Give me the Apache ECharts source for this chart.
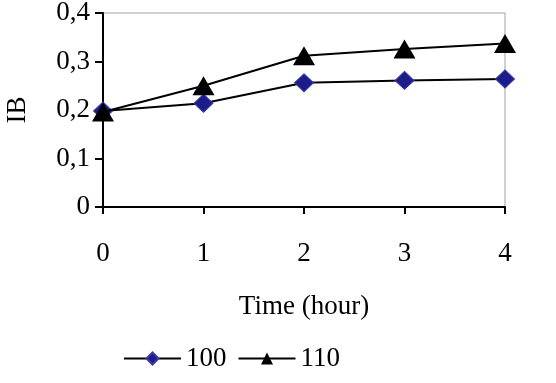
<!DOCTYPE html>
<html>
<head>
<meta charset="utf-8">
<script src="https://cdn.jsdelivr.net/npm/echarts@6/dist/echarts.min.js"></script>
<style>
    html, body { margin: 0; padding: 0; background: #fff; }
    #chart { width: 556px; height: 383px; }
</style>
</head>
<body>
<div id="chart"></div>
<script>
// hours on the x axis
const hours = [0, 1, 2, 3, 4];
// IB values per series
const ib100 = [0.198, 0.214, 0.256, 0.261, 0.264];
const ib110 = [0.196, 0.25, 0.312, 0.326, 0.337];
const seriesNames = ["100", "110"];

const fontFamily = "'Liberation Serif', 'Times New Roman', serif";
const fontSize = 27;
const colorNavy = "#1c1c8a";

const chart = echarts.init(document.getElementById("chart"));

chart.setOption({
    animation: false,
    textStyle: { fontFamily: fontFamily },
    grid: {
        left: 103,
        right: 51,
        top: 13,
        bottom: 176,
        outerBoundsMode: "none",
        containLabel: false,
        show: true,
        borderColor: "#a0a0a0",
        borderWidth: 1
    },
    legend: {
        data: seriesNames,
        bottom: 6,
        left: 118,
        itemWidth: 57,
        itemHeight: 15,
        itemGap: 11,
        textStyle: {
            fontFamily: fontFamily,
            fontSize: fontSize,
            color: "#000"
        }
    },
    xAxis: {
        type: "value",
        min: 0,
        max: 4,
        interval: 1,
        name: "Time (hour)",
        nameLocation: "middle",
        nameGap: 86,
        nameTextStyle: { fontSize: fontSize, color: "#000", fontFamily: fontFamily },
        axisLine: { lineStyle: { color: "#000", width: 2 } },
        axisTick: { show: true, length: 7, lineStyle: { color: "#000", width: 2 } },
        axisLabel: { fontSize: fontSize, color: "#000", margin: 33 },
        splitLine: { show: false }
    },
    yAxis: {
        type: "value",
        min: 0,
        max: 0.4,
        interval: 0.1,
        name: "IB",
        nameLocation: "middle",
        nameGap: 72,
        nameTextStyle: { fontSize: fontSize, color: "#000", fontFamily: fontFamily },
        axisLine: { show: true, lineStyle: { color: "#000", width: 2 } },
        axisTick: { show: true, length: 8, lineStyle: { color: "#000", width: 2 } },
        axisLabel: {
            fontSize: fontSize,
            color: "#000",
            margin: 13,
            formatter: v => v === 0 ? "0" : v.toFixed(1).replace(".", ",")
        },
        splitLine: { show: false }
    },
    series: [
        {
            name: seriesNames[0],
            type: "line",
            data: hours.map((h, i) => [h, ib100[i]]),
            symbol: "diamond",
            symbolSize: [19, 18],
            lineStyle: { color: "#000", width: 2 },
            itemStyle: { color: colorNavy, borderColor: "#3a3aa8", borderWidth: 1 },
            z: 3
        },
        {
            name: seriesNames[1],
            type: "line",
            data: hours.map((h, i) => [h, ib110[i]]),
            symbol: "triangle",
            symbolSize: [22, 19],
            lineStyle: { color: "#000", width: 2 },
            itemStyle: { color: "#000" },
            z: 4
        }
    ]
});
</script>
</body>
</html>
